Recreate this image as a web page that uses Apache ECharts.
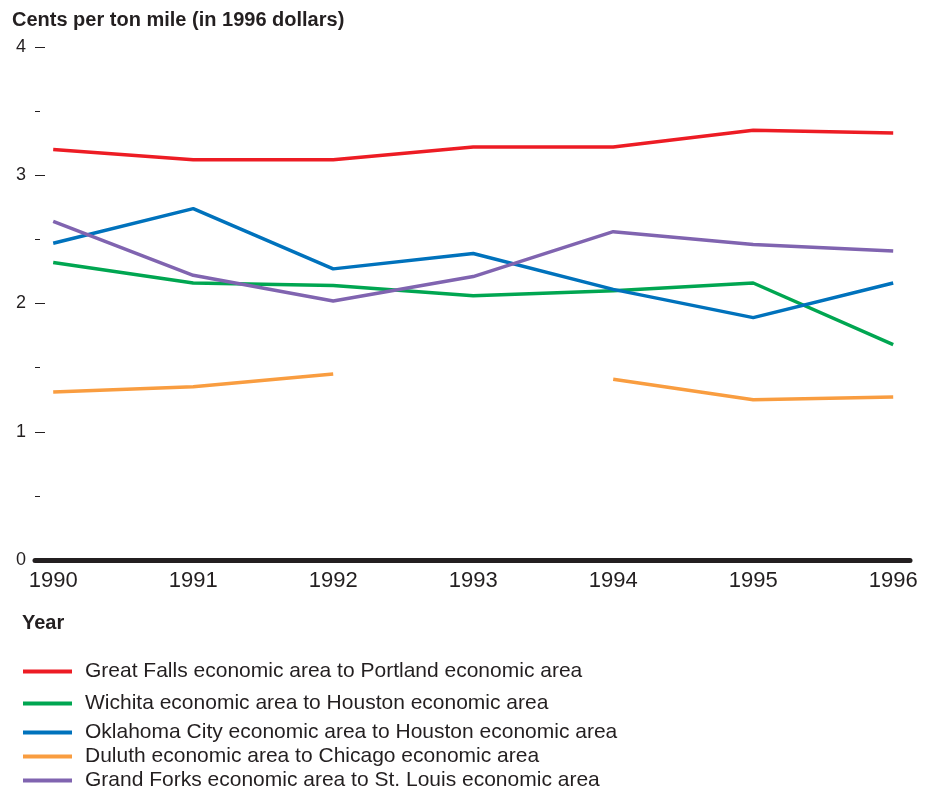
<!DOCTYPE html>
<html>
<head>
<meta charset="utf-8">
<script src="https://cdn.jsdelivr.net/npm/echarts@6/dist/echarts.min.js"></script>
<style>
  html, body { margin: 0; padding: 0; background: #fff; }
  #chartmain { width: 941px; height: 797px; }
</style>
</head>
<body>
<div id="chartmain"></div>
<script>
// data
var years = [1990, 1991, 1992, 1993, 1994, 1995, 1996];
var greatFalls = [3.20, 3.12, 3.12, 3.22, 3.22, 3.35, 3.33];
var wichita = [2.32, 2.16, 2.14, 2.06, 2.10, 2.16, 1.68];
var oklahoma = [2.47, 2.74, 2.27, 2.39, 2.11, 1.89, 2.16];
var duluth = [1.31, 1.35, 1.45, null, 1.41, 1.25, 1.27];
var grandForks = [2.64, 2.22, 2.02, 2.21, 2.56, 2.46, 2.41];
var yTicks = [0, 1, 2, 3, 4];

var names = [
    'Great Falls economic area to Portland economic area',
    'Wichita economic area to Houston economic area',
    'Oklahoma City economic area to Houston economic area',
    'Duluth economic area to Chicago economic area',
    'Grand Forks economic area to St. Louis economic area'
];
var values = [greatFalls, wichita, oklahoma, duluth, grandForks];
var colors = ['#ed1c24', '#00a651', '#0072bc', '#f99d40', '#8064b0'];
var legendTops = [656, 688, 717, 741, 765];

var chart = echarts.init(document.getElementById('chartmain'));
var ink = '#231f20';
var font = 'Liberation Sans, Arial';

function pairs(arr) {
    return arr.map(function (v, i) { return [years[i], v == null ? '-' : v]; });
}

var series = names.map(function (n, k) {
    return {
        name: n,
        type: 'line',
        data: pairs(values[k]),
        showSymbol: false,
        symbol: 'none',
        connectNulls: false,
        lineStyle: { color: colors[k], width: 3.5 },
        itemStyle: { color: colors[k] }
    };
});

var legends = names.map(function (n, k) {
    return {
        data: [n],
        left: 18,
        top: legendTops[k],
        icon: 'rect',
        itemWidth: 49,
        itemHeight: 4,
        textStyle: { color: ink, fontSize: 21, fontFamily: font, padding: [0, 0, 0, 8] }
    };
});

option = {
    backgroundColor: '#fff',
    animation: false,
    title: [
        {
            text: 'Cents per ton mile (in 1996 dollars)',
            left: 7, top: 5,
            textStyle: { color: ink, fontSize: 20, fontWeight: 'bold', fontFamily: font }
        },
        {
            text: 'Year',
            left: 17, top: 608,
            textStyle: { color: ink, fontSize: 20, fontWeight: 'bold', fontFamily: font }
        }
    ],
    legend: legends,
    grid: { left: 35, right: 31, top: 47, bottom: 237 },
    xAxis: {
        type: 'value',
        min: 1989.87,
        max: 1996.12,
        splitLine: { show: false },
        axisLine: { show: true, lineStyle: { color: ink, width: 5, cap: 'round' } },
        axisTick: { show: false },
        axisLabel: {
            customValues: years,
            formatter: function (v) { return String(v); },
            color: ink, fontSize: 22, margin: 10,
            fontFamily: font
        }
    },
    yAxis: {
        type: 'value',
        min: 0, max: 4, interval: 1,
        splitLine: { show: false },
        axisLine: { show: false },
        axisTick: { show: true, inside: true, length: 10, lineStyle: { color: ink, width: 1 } },
        minorTick: { show: true, splitNumber: 2, length: 5, lineStyle: { color: ink, width: 1 } },
        axisLabel: {
            customValues: yTicks,
            color: ink, fontSize: 18, margin: 9,
            fontFamily: font
        }
    },
    series: series
};

chart.setOption(option);
</script>
</body>
</html>
